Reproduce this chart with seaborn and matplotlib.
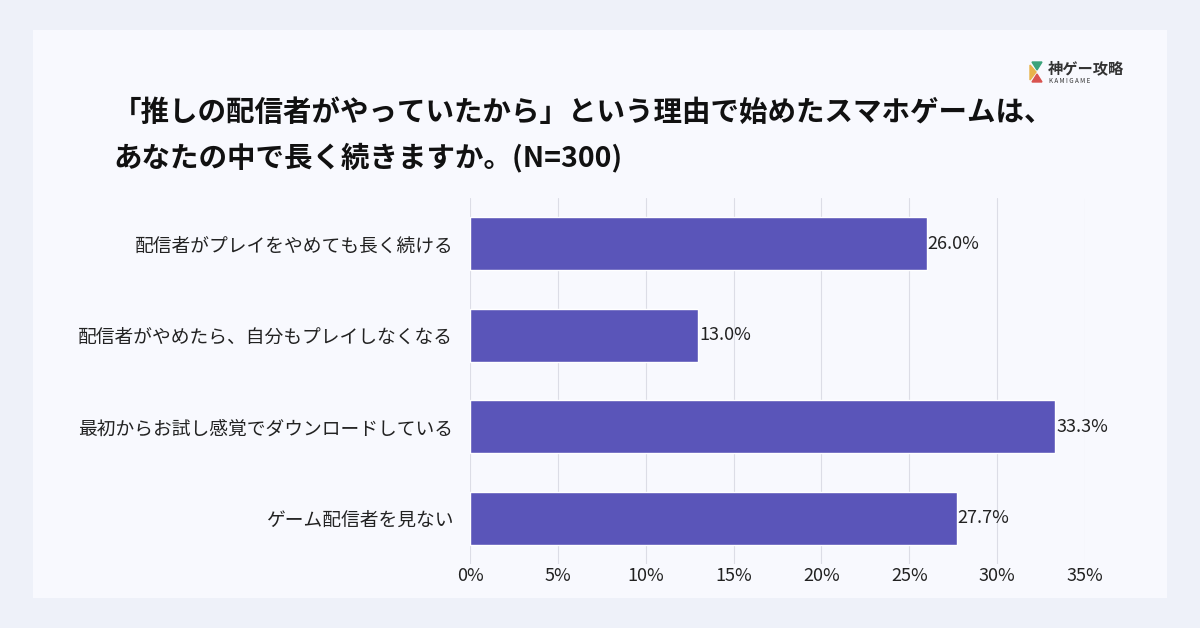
import matplotlib
matplotlib.use("Agg")
import matplotlib.pyplot as plt
import seaborn as sns
import pandas as pd
from matplotlib.patches import FancyBboxPatch, Polygon

categories = ["配信者がプレイをやめても長く続ける", "配信者がやめたら、自分もプレイしなくなる",
              "最初からお試し感覚でダウンロードしている", "ゲーム配信者を見ない"]
values = [26.0, 13.0, 33.3, 27.7]
ticks = [0, 5, 10, 15, 20, 25, 30, 35]
tick_labels = ["0%", "5%", "10%", "15%", "20%", "25%", "30%", "35%"]

sns.set_theme(style="white")
plt.rcParams['font.family'] = ['Noto Sans CJK JP', 'DejaVu Sans']

fig = plt.figure(figsize=(12, 6.28), dpi=100)
fig.patch.set_facecolor("#eef1f9")
panel = FancyBboxPatch((33/1200, 1-598/628), 1134/1200, 568/628, boxstyle="square,pad=0",
                       transform=fig.transFigure, facecolor="#f8f9fe", edgecolor="none", zorder=-5)
fig.patches.append(panel)

ax = fig.add_axes([470/1200, 1-564/628, 615/1200, 366/628])
ax.set_zorder(2)
ax.set_facecolor("none")
df = pd.DataFrame({"cat": categories, "val": values})
sns.barplot(data=df, y="cat", x="val", color="#5a55b9", saturation=1, width=0.58, ax=ax, zorder=3)
ax.set_xlim(0, 35)
ax.set_ylim(3.5, -0.5)
ax.set_xticks(ticks)
ax.set_xticklabels(tick_labels, fontsize=13, color="#222222")
ax.xaxis.grid(True, color="#dcdde6", linewidth=0.8, zorder=0)
ax.set_axisbelow(True)
ax.set_xlabel(""); ax.set_ylabel("")
ax.tick_params(axis="y", labelsize=13.5, colors="#222222", length=0, pad=12)
ax.tick_params(axis="x", length=0, pad=2)
for s in ax.spines.values():
    s.set_visible(False)
for i, v in enumerate(values):
    ax.text(v + 0.05, i, f"{v:.1f}%", va="center", ha="left", fontsize=13, color="#222222", zorder=4)

fig.text(113/1200, 1-113/628, "「推しの配信者がやっていたから」という理由で始めたスマホゲームは、",
         fontsize=20.5, fontweight="bold", color="#111111", va="center")
fig.text(113/1200, 1-157/628, "あなたの中で長く続きますか。(N=300)",
         fontsize=20.5, fontweight="bold", color="#111111", va="center")

# logo
fig.patches.append(Polygon([[1032/1200, 1-62/628], [1042/1200, 1-62/628], [1037/1200, 1-70/628]],
                           transform=fig.transFigure, color="#3aa37a"))
fig.patches.append(Polygon([[1030/1200, 1-65/628], [1036/1200, 1-72/628], [1030/1200, 1-80/628]],
                           transform=fig.transFigure, color="#e8b34a"))
fig.patches.append(Polygon([[1032/1200, 1-82/628], [1042/1200, 1-82/628], [1037/1200, 1-74/628]],
                           transform=fig.transFigure, color="#d9534f"))
fig.text(1048/1200, 1-68/628, "神ゲー攻略", fontsize=11, fontweight="bold", color="#333333", va="center")
fig.text(1049/1200, 1-81/628, "K A M I G A M E", fontsize=4.5, color="#333333", va="center")

fig.savefig("out.png", dpi=100, facecolor=fig.get_facecolor())
